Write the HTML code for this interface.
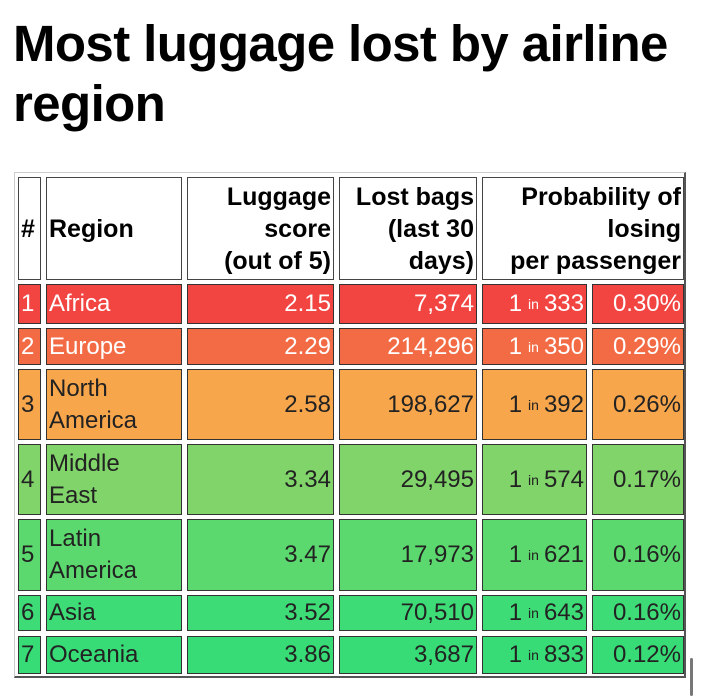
<!DOCTYPE html>
<html><head><meta charset="utf-8">
<style>
body{margin:0;width:701px;height:700px;background:#fff;font-family:"Liberation Sans",sans-serif;position:relative;overflow:hidden}
#title{position:absolute;left:13px;top:14px;font-size:51px;font-weight:bold;line-height:60px;color:#000;letter-spacing:-0.6px}
#tbl{position:absolute;left:14px;top:172px;width:672px;height:506px;border:1px solid #ccc;border-right:2px solid #555;border-bottom:2px solid #555;box-sizing:border-box}
.c{position:absolute;box-sizing:border-box;border:1.5px solid #333;font-size:24px;line-height:32px;padding:0 2px;display:flex;align-items:center;white-space:nowrap;overflow:hidden}
.h{font-weight:bold;background:#fff;color:#000;border-color:#444;font-size:25px}
.r{justify-content:flex-end;text-align:right}
sup{font-size:14px;vertical-align:9px;margin:0 5px 0 6px}
#sb{position:absolute;left:690px;top:658px;width:3px;height:38px;background:#777;border-radius:2px}
</style></head><body>
<div id="title">Most luggage lost by airline<br>region</div>
<div id="tbl"></div>
<div id="sb"></div>
<script>
const regions=["Africa","Europe","North<br>America","Middle<br>East","Latin<br>America","Asia","Oceania"];
const scores=["2.15","2.29","2.58","3.34","3.47","3.52","3.86"];
const bags=["7,374","214,296","198,627","29,495","17,973","70,510","3,687"];
const oneIn=["333","350","392","574","621","643","833"];
const pct=["0.30%","0.29%","0.26%","0.17%","0.16%","0.16%","0.12%"];
const colors=["#f24542","#f36b45","#f8a64b","#80d46a","#5cd96e","#3edc77","#37dc77"];
const textColors=["#fff","#fff","#222","#222","#222","#222","#222"];
const colX=[18,46,187,339,482,592,684];
const rowY=[[177,280],[284,324],[328,365],[369,440],[444,515],[519,591],[595,631],[636,674]];
const body=document.body;
function cell(x1,x2,y1,y2,html,cls,bg,fg,name){
  const d=document.createElement('div');
  d.className='c '+cls;
  d.style.left=x1+'px';d.style.top=y1+'px';d.style.width=(x2-x1)+'px';d.style.height=(y2-y1)+'px';
  if(bg)d.style.background=bg; if(fg)d.style.color=fg;
  d.innerHTML=html;
  
  
  body.appendChild(d);
}
const H=rowY[0];
cell(colX[0],colX[1]-5,H[0],H[1],'#','h','', '', 'header-rank');
cell(colX[1],colX[2]-5,H[0],H[1],'Region','h','','','header-region');
cell(colX[2],colX[3]-5,H[0],H[1],'<div style="text-align:right;width:100%">Luggage<br>score<br>(out of 5)</div>','h r','','','header-score');
cell(colX[3],colX[4]-5,H[0],H[1],'<div style="text-align:right;width:100%">Lost bags<br>(last 30<br>days)</div>','h r','','','header-lost-bags');
cell(colX[4],colX[6],H[0],H[1],'<div style="text-align:right;width:100%">Probability of<br>losing<br>per passenger</div>','h r','','','header-probability');
for(let i=0;i<regions.length;i++){
  const [y1,y2]=rowY[i+1],bg=colors[i],fg=textColors[i];
  cell(colX[0],colX[1]-5,y1,y2,String(i+1),'',bg,fg,'rank-cell');
  cell(colX[1],colX[2]-5,y1,y2,'<div>'+regions[i]+'</div>','',bg,fg,'region-cell');
  cell(colX[2],colX[3]-5,y1,y2,scores[i],'r',bg,fg,'score-cell');
  cell(colX[3],colX[4]-5,y1,y2,bags[i],'r',bg,fg,'lost-bags-cell');
  cell(colX[4],colX[5]-5,y1,y2,'1<sup>in</sup>'+oneIn[i],'r',bg,fg,'odds-cell');
  cell(colX[5],colX[6],y1,y2,pct[i],'r',bg,fg,'percent-cell');
}
</script>
</body></html>
